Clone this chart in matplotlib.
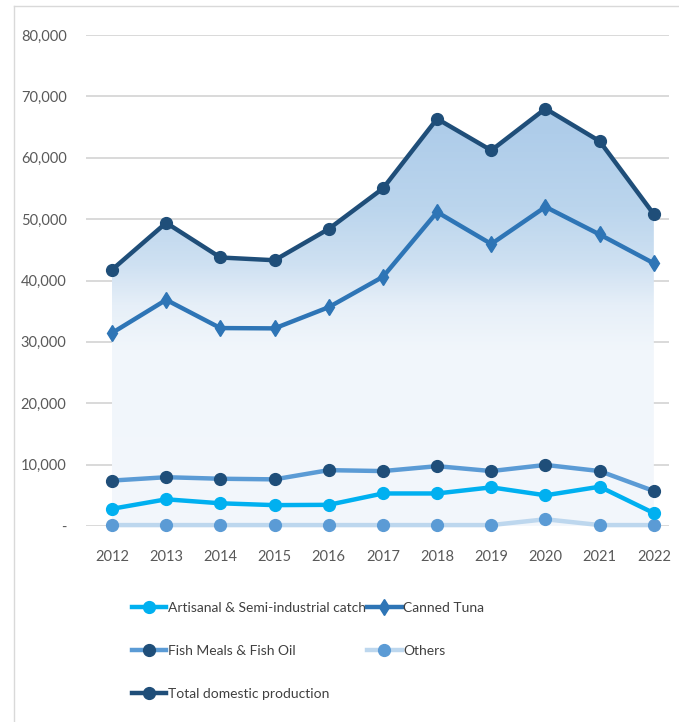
import numpy as np
import matplotlib
matplotlib.use('Agg')
import matplotlib.pyplot as plt
from matplotlib.lines import Line2D
from matplotlib.colors import LinearSegmentedColormap
from matplotlib.ticker import FuncFormatter

plt.rcParams['font.family'] = ['Lato', 'DejaVu Sans']

years = [2012, 2013, 2014, 2015, 2016, 2017, 2018, 2019, 2020, 2021, 2022]
artisanal = [2800, 4350, 3700, 3400, 3450, 5300, 5300, 6300, 5000, 6400, 2100]
canned_tuna = [31450, 36850, 32250, 32200, 35650, 40600, 51150, 45950, 52000, 47500, 42800]
fish_meal = [7400, 7950, 7700, 7600, 9100, 8950, 9750, 8950, 9950, 8950, 5700]
others = [150, 150, 150, 150, 150, 150, 150, 150, 1100, 150, 150]
total = [41750, 49400, 43750, 43300, 48400, 55000, 66350, 61200, 68000, 62700, 50800]

fig = plt.figure(figsize=(6.79, 7.22), dpi=100)
ax = fig.add_axes([86/679, 1-526/722, (669-86)/679, (526-35)/722])

# gradient fill under the total line
grad = LinearSegmentedColormap.from_list('g', [
    (0.0, '#F3F7FC'), (0.36, '#F1F6FB'), (0.45, '#E6EFF8'),
    (0.53, '#CFE1F2'), (0.65, '#BBD5ED'), (0.80, '#AFCDEA'), (1.0, '#A9C9E8')])
x = np.array(years)
poly = ax.fill_between(x, 0, total, color='none', lw=0)
img = ax.imshow(np.linspace(0, 1, 256).reshape(-1, 1), cmap=grad, aspect='auto',
                origin='lower', extent=[x[0], x[-1], 0, 80000], zorder=1)
img.set_clip_path(poly.get_paths()[0], transform=ax.transData)

ax.plot(years, others, color='#BDD7EE', lw=3.2, marker='o', ms=8.5,
        mfc='#5B9BD5', mec='#5B9BD5', zorder=3, clip_on=False, label='Others')
ax.plot(years, fish_meal, color='#5B9BD5', lw=3.2, marker='o', ms=8.5,
        mfc='#1F4E79', mec='#1F4E79', zorder=4, clip_on=False, label='Fish Meals & Fish Oil')
ax.plot(years, artisanal, color='#00B0F0', lw=3.2, marker='o', ms=8.5,
        mfc='#00B0F0', mec='#00B0F0', zorder=5, clip_on=False, label='Artisanal & Semi-industrial catch')
ax.plot(years, canned_tuna, color='#2E75B6', lw=3.2, marker='d', ms=8.5,
        mfc='#2E75B6', mec='#2E75B6', zorder=5, clip_on=False, label='Canned Tuna')
ax.plot(years, total, color='#1F4E79', lw=3.2, marker='o', ms=8.5,
        mfc='#1F4E79', mec='#1F4E79', zorder=6, clip_on=False, label='Total domestic production')

ax.set_xlim(2011.52, 2022.28)
ax.set_ylim(0, 80000)
ax.set_yticks(range(0, 80001, 10000))
ax.set_xticks(years)
ax.yaxis.set_major_formatter(FuncFormatter(lambda v, p: '-' if v == 0 else f'{int(v):,}'))
ax.grid(axis='y', color='#D9D9D9', lw=1.4, zorder=0)
ax.set_axisbelow(True)
for s in ax.spines.values():
    s.set_visible(False)
ax.tick_params(length=0, colors='#595959', labelsize=10.5)
ax.tick_params(axis='x', pad=17)
ax.tick_params(axis='y', pad=14)

h, l = ax.get_legend_handles_labels()
order = [2, 1, 4, 3, 0]
fig.legend([h[i] for i in order], [l[i] for i in order], ncol=2,
           loc='upper left', bbox_to_anchor=(126/679, 1-596/722), frameon=False,
           fontsize=10, labelcolor='#404040', handlelength=2.5, handletextpad=0.1,
           columnspacing=0.1, labelspacing=2.25, borderaxespad=0)

# chart frame
fig.add_artist(Line2D([14/679, 14/679], [0, 1-6/722], color='#D9D9D9', lw=1))
fig.add_artist(Line2D([14/679, 1], [1-6/722, 1-6/722], color='#D9D9D9', lw=1))

fig.savefig('out.png', dpi=100)
